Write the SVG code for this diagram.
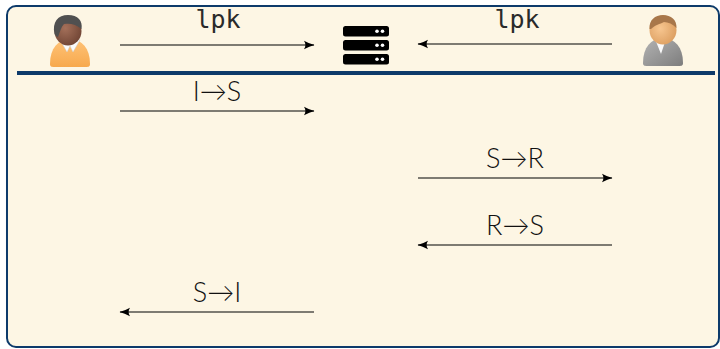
<svg xmlns="http://www.w3.org/2000/svg" width="720" height="349" viewBox="0 0 720 349">
  <defs>
    <marker id="tip" viewBox="0 0 11 11" refX="10" refY="5.5" markerWidth="11" markerHeight="11" markerUnits="userSpaceOnUse" orient="auto">
      <path d="M0,1.2 Q5.5,4.3 10.5,5.5 Q5.5,6.7 0,9.8 Q2.8,5.5 0,1.2 Z" fill="#000"/>
    </marker>
    <linearGradient id="orangeBody" x1="0" y1="0" x2="0" y2="1">
      <stop offset="0" stop-color="#ffc47a"/>
      <stop offset="1" stop-color="#f7a94d"/>
    </linearGradient>
    <linearGradient id="greyBody" x1="0" y1="0" x2="1" y2="1">
      <stop offset="0" stop-color="#b5b5b5"/>
      <stop offset="1" stop-color="#7d7d7d"/>
    </linearGradient>
    <radialGradient id="darkFace" cx="0.4" cy="0.4" r="0.7">
      <stop offset="0" stop-color="#a4705a"/>
      <stop offset="1" stop-color="#6d4232"/>
    </radialGradient>
    <radialGradient id="lightFace" cx="0.4" cy="0.45" r="0.7">
      <stop offset="0" stop-color="#f7c690"/>
      <stop offset="1" stop-color="#d99a5b"/>
    </radialGradient>
  </defs>
  <style>
    .frame { fill: #fdf6e4; stroke: #0d3a6a; stroke-width: 2; }
    .rule { stroke: #0d3a6a; stroke-width: 4; }
    .msg { stroke: #000; stroke-width: 1.1; fill: none; marker-end: url(#tip); }
    .mono { font-family: "DejaVu Sans Mono", "Liberation Mono", monospace; font-size: 25px; fill: #2a2a2a; text-anchor: middle; }
    .lbl { font-family: Lato, "Open Sans", "DejaVu Sans", sans-serif; font-weight: 300; font-size: 27px; fill: #111; text-anchor: middle; }
  </style>

  <rect class="frame" x="7" y="6" width="712" height="341" rx="9"/>
  <line class="rule" x1="17" y1="73" x2="715" y2="73"/>

  <!-- initiator -->
  <g id="initiator">
    <path d="M50,64 C50,48 58,40 70,38 C82,40 90,48 90,64 C90,67 88,67 85,67 L55,67 C52,67 50,67 50,64 Z" fill="url(#orangeBody)"/>
    <path d="M60,40 L67,52 L70,46 L73,52 L80,40 L76,38 L70,44 L64,38 Z" fill="#fbfbfb" stroke="#ccc" stroke-width="0.5"/>
    <ellipse cx="68" cy="31" rx="13.5" ry="14.5" fill="url(#darkFace)"/>
    <path d="M54.5,34 C52,22 58,15 68,15 C78,15 83,21 81.5,29 C76,24 70,23 64,24 C61,27 60,32 58,37 C57,37 55.5,36 54.5,34 Z" fill="#505050"/>
  </g>

  <!-- server -->
  <g id="server">
    <rect x="343" y="26" width="46" height="10.5" rx="2.5" fill="#000"/>
    <rect x="343" y="40" width="46" height="10.5" rx="2.5" fill="#000"/>
    <rect x="343" y="54" width="46" height="10.5" rx="2.5" fill="#000"/>
    <g fill="#fff">
      <circle cx="377" cy="31.2" r="1.8"/><circle cx="382.5" cy="31.2" r="1.8"/>
      <circle cx="377" cy="45.2" r="1.8"/><circle cx="382.5" cy="45.2" r="1.8"/>
      <circle cx="377" cy="59.2" r="1.8"/><circle cx="382.5" cy="59.2" r="1.8"/>
    </g>
  </g>

  <!-- responder -->
  <g id="responder">
    <path d="M643,63 C643,47 651,39 663,37 C675,39 683,47 683,63 C683,66 681,66 678,66 L648,66 C645,66 643,66 643,63 Z" fill="url(#greyBody)"/>
    <path d="M655,39 L661,54 L666,39 Z" fill="#fafafa"/>
    <ellipse cx="663" cy="30" rx="13.5" ry="14.5" fill="url(#lightFace)"/>
    <path d="M649.5,29 C649,20 655,15 663,15 C671,15 677,20 676.5,28 C673,24 668,22 664,22 C660,24 655,25 651,29 Z" fill="#a8774a"/>
  </g>

  <g id="connectors">
    <line class="msg" x1="120" y1="45" x2="314" y2="45"/>
    <line class="msg" x1="612" y1="44" x2="418" y2="44"/>
    <line class="msg" x1="120" y1="111" x2="314" y2="111"/>
    <line class="msg" x1="418" y1="178" x2="612" y2="178"/>
    <line class="msg" x1="612" y1="245" x2="418" y2="245"/>
    <line class="msg" x1="314" y1="312" x2="120" y2="312"/>
  </g>

  <g id="labels">
    <text class="mono" x="218" y="28">lpk</text>
    <text class="mono" x="517" y="28">lpk</text>
    <text class="lbl" x="217" y="101">I→S</text>
    <text class="lbl" x="515" y="168">S→R</text>
    <text class="lbl" x="515" y="235">R→S</text>
    <text class="lbl" x="217" y="302">S→I</text>
  </g>
</svg>
